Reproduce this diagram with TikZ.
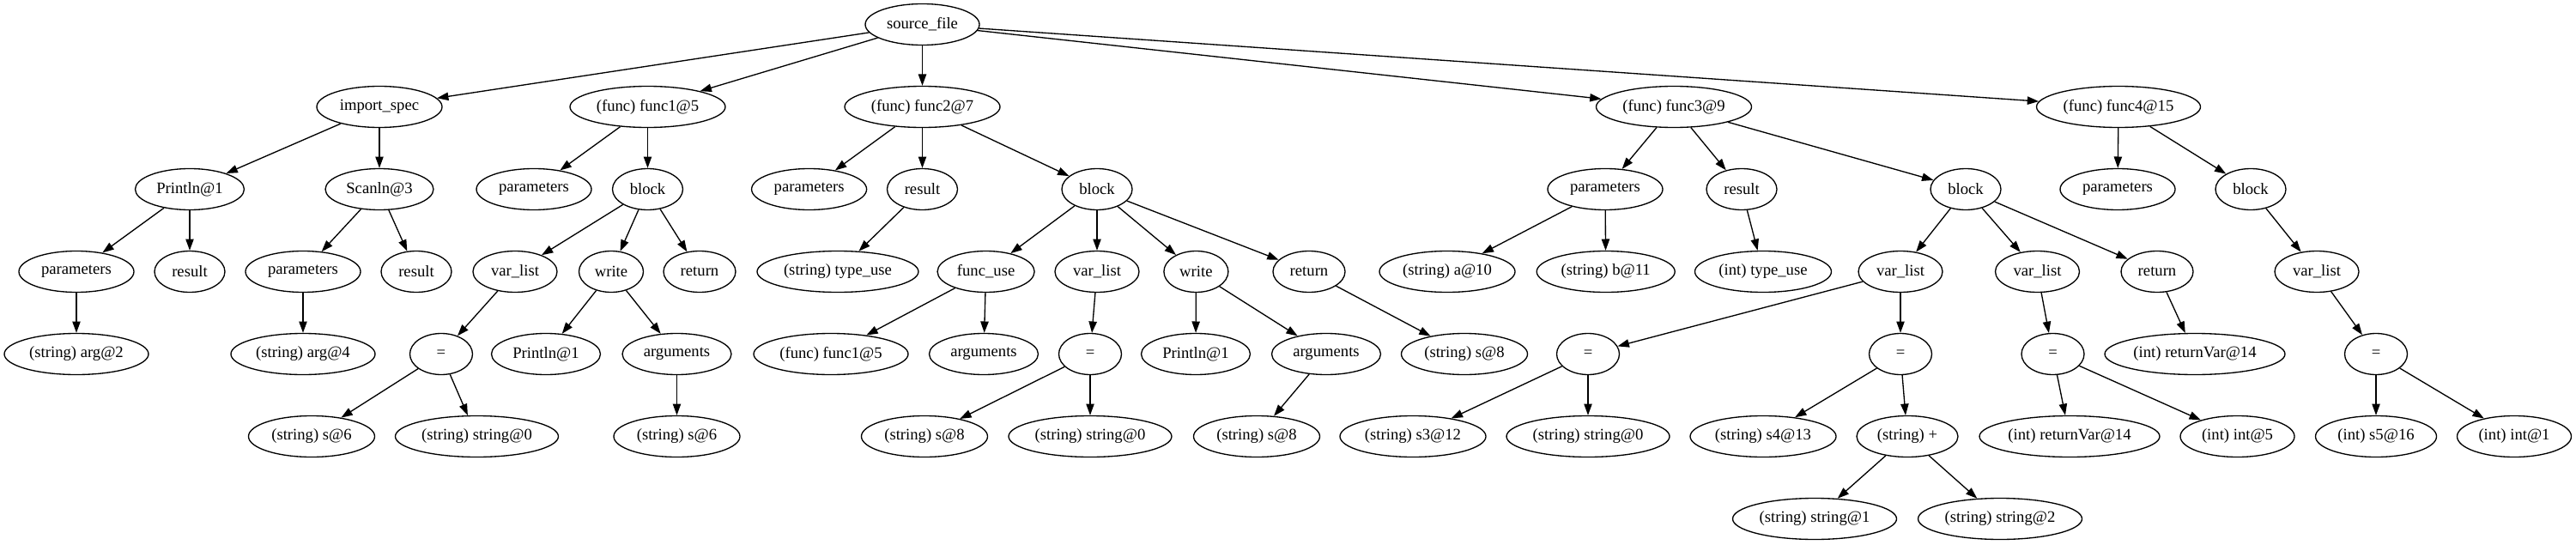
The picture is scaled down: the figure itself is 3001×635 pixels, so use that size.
\documentclass[tikz,border=0pt]{standalone}
\usepackage{fontspec}
\setmainfont{Liberation Serif}
\usetikzlibrary{shapes.geometric,arrows.meta}
\tikzset{
  nd/.style={ellipse, draw, line width=1pt, inner sep=0pt, minimum height=36pt, minimum width=#1*0.75pt, font=\fontsize{14}{17}\selectfont},
  ed/.style={line width=1pt, -{Triangle[length=10pt,width=7pt]}}
}
\begin{document}
\begin{tikzpicture}[x=0.75pt,y=-0.75pt]
\useasboundingbox (0,0) rectangle (3001,635);
% row 1
\node[nd=133] (src) at (1074.5,28.5) {source\_file};
% row 2
\node[nd=146] (imp) at (442,124.5) {import\_spec};
\node[nd=181] (f1) at (754.5,124.5) {(func) func1@5};
\node[nd=181] (f2) at (1074.5,124.5) {(func) func2@7};
\node[nd=181] (f3) at (1950,124.5) {(func) func3@9};
\node[nd=191] (f4) at (2468,124.5) {(func) func4@15};
% row 3
\node[nd=127] (pr1) at (221,220.5) {Println@1};
\node[nd=126] (sc3) at (442,220.5) {Scanln@3};
\node[nd=134] (f1par) at (622,220.5) {parameters};
\node[nd=82] (f1blk) at (754.5,220.5) {block};
\node[nd=134] (f2par) at (942.6,220.5) {parameters};
\node[nd=82] (f2res) at (1074.5,220.5) {result};
\node[nd=82] (f2blk) at (1278,220.5) {block};
\node[nd=134] (f3par) at (1870,220.5) {parameters};
\node[nd=82] (f3res) at (2029,220.5) {result};
\node[nd=82] (f3blk) at (2290,220.5) {block};
\node[nd=134] (f4par) at (2467,220.5) {parameters};
\node[nd=82] (f4blk) at (2622,220.5) {block};
% row 4
\node[nd=134] (pr1par) at (89,316.5) {parameters};
\node[nd=82] (pr1res) at (221,316.5) {result};
\node[nd=134] (sc3par) at (353,316.5) {parameters};
\node[nd=82] (sc3res) at (485,316.5) {result};
\node[nd=98] (f1vl) at (600,316.5) {var\_list};
\node[nd=75] (f1wr) at (712,316.5) {write};
\node[nd=84] (f1ret) at (815,316.5) {return};
\node[nd=188] (f2tu) at (976,316.5) {(string) type\_use};
\node[nd=113] (f2fu) at (1148.6,316.5) {func\_use};
\node[nd=98] (f2vl) at (1278,316.5) {var\_list};
\node[nd=75] (f2wr) at (1393.4,316.5) {write};
\node[nd=84] (f2ret) at (1525,316.5) {return};
\node[nd=158] (f3a) at (1686,316.5) {(string) a@10};
\node[nd=161] (f3b) at (1870.7,316.5) {(string) b@11};
\node[nd=159] (f3tu) at (2054,316.5) {(int) type\_use};
\node[nd=98] (f3vla) at (2214,316.5) {var\_list};
\node[nd=98] (f3vlb) at (2373.5,316.5) {var\_list};
\node[nd=84] (f3ret) at (2513,316.5) {return};
\node[nd=98] (f4vl) at (2699,316.5) {var\_list};
% row 5
\node[nd=168] (arg2) at (89,412.5) {(string) arg@2};
\node[nd=168] (arg4) at (353,412.5) {(string) arg@4};
\node[nd=73] (f1eq) at (514,412.5) {=};
\node[nd=127] (f1pl) at (636,412.5) {Println@1};
\node[nd=127] (f1args) at (788.5,412.5) {arguments};
\node[nd=180] (f2f1) at (968,412.5) {(func) func1@5};
\node[nd=127] (f2argsa) at (1146,412.5) {arguments};
\node[nd=73] (f2eq) at (1270,412.5) {=};
\node[nd=127] (f2pl) at (1393,412.5) {Println@1};
\node[nd=127] (f2argsb) at (1545,412.5) {arguments};
\node[nd=147] (f2s8r) at (1706,412.5) {(string) s@8};
\node[nd=73] (f3eqa) at (1850,412.5) {=};
\node[nd=73] (f3eqb) at (2214,412.5) {=};
\node[nd=73] (f3eqc) at (2391.5,412.5) {=};
\node[nd=210] (f3rv) at (2557,412.5) {(int) returnVar@14};
\node[nd=73] (f4eq) at (2768,412.5) {=};
% row 6
\node[nd=147] (f1s6) at (363,508.5) {(string) s@6};
\node[nd=190] (f1str0) at (555.5,508.5) {(string) string@0};
\node[nd=147] (f1s6b) at (788.5,508.5) {(string) s@6};
\node[nd=147] (f2s8a) at (1077,508.5) {(string) s@8};
\node[nd=190] (f2str0) at (1270,508.5) {(string) string@0};
\node[nd=147] (f2s8b) at (1464,508.5) {(string) s@8};
\node[nd=170] (f3s3) at (1646,508.5) {(string) s3@12};
\node[nd=190] (f3str0) at (1850,508.5) {(string) string@0};
\node[nd=170] (f3s4) at (2054,508.5) {(string) s4@13};
\node[nd=118] (f3plus) at (2222,508.5) {(string) +};
\node[nd=210] (f3rvb) at (2411,508.5) {(int) returnVar@14};
\node[nd=133] (f3int5) at (2606.5,508.5) {(int) int@5};
\node[nd=141] (f4s5) at (2768,508.5) {(int) s5@16};
\node[nd=133] (f4int1) at (2929,508.5) {(int) int@1};
% row 7
\node[nd=191] (f3s1) at (2114,604.5) {(string) string@1};
\node[nd=191] (f3s2) at (2330,604.5) {(string) string@2};
% edges
\foreach \a/\b in {src/imp,src/f1,src/f2,src/f3,src/f4,
  imp/pr1,imp/sc3,pr1/pr1par,pr1/pr1res,pr1par/arg2,sc3/sc3par,sc3/sc3res,sc3par/arg4,
  f1/f1par,f1/f1blk,f1blk/f1vl,f1blk/f1wr,f1blk/f1ret,f1vl/f1eq,f1eq/f1s6,f1eq/f1str0,
  f1wr/f1pl,f1wr/f1args,f1args/f1s6b,
  f2/f2par,f2/f2res,f2/f2blk,f2res/f2tu,f2blk/f2fu,f2blk/f2vl,f2blk/f2wr,f2blk/f2ret,
  f2fu/f2f1,f2fu/f2argsa,f2vl/f2eq,f2eq/f2s8a,f2eq/f2str0,f2wr/f2pl,f2wr/f2argsb,
  f2argsb/f2s8b,f2ret/f2s8r,
  f3/f3par,f3/f3res,f3/f3blk,f3par/f3a,f3par/f3b,f3res/f3tu,f3blk/f3vla,f3blk/f3vlb,
  f3blk/f3ret,f3vla/f3eqa,f3vla/f3eqb,f3eqa/f3s3,f3eqa/f3str0,f3eqb/f3s4,f3eqb/f3plus,
  f3plus/f3s1,f3plus/f3s2,f3vlb/f3eqc,f3eqc/f3rvb,f3eqc/f3int5,f3ret/f3rv,
  f4/f4par,f4/f4blk,f4blk/f4vl,f4vl/f4eq,f4eq/f4s5,f4eq/f4int1}
  \draw[ed] (\a) -- (\b);
\end{tikzpicture}
\end{document}
